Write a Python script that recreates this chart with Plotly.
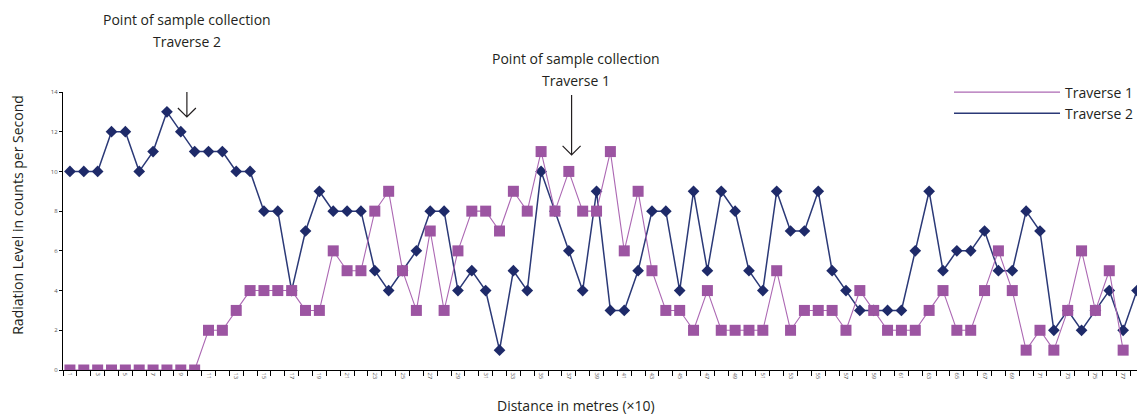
import plotly.graph_objects as go

# ---- data ----
distance = list(range(1, 79))
traverse1 = [0, 0, 0, 0, 0, 0, 0, 0, 0, 0,
             2, 2, 3, 4, 4, 4, 4, 3, 3, 6,
             5, 5, 8, 9, 5, 3, 7, 3, 6, 8,
             8, 7, 9, 8, 11, 8, 10, 8, 8, 11,
             6, 9, 5, 3, 3, 2, 4, 2, 2, 2,
             2, 5, 2, 3, 3, 3, 2, 4, 3, 2,
             2, 2, 3, 4, 2, 2, 4, 6, 4, 1,
             2, 1, 3, 6, 3, 5, 1]
traverse2 = [10, 10, 10, 12, 12, 10, 11, 13, 12, 11,
             11, 11, 10, 10, 8, 8, 4, 7, 9, 8,
             8, 8, 5, 4, 5, 6, 8, 8, 4, 5,
             4, 1, 5, 4, 10, 8, 6, 4, 9, 3,
             3, 5, 8, 8, 4, 9, 5, 9, 8, 5,
             4, 9, 7, 7, 9, 5, 4, 3, 3, 3,
             3, 6, 9, 5, 6, 6, 7, 5, 5, 8,
             7, 2, 3, 2, 3, 4, 2, 4]
y_ticks = [0, 2, 4, 6, 8, 10, 12, 14]
x_tick_vals = [n for n in distance if n % 2 == 1]
x_tick_text = [str(n) for n in x_tick_vals]
series_names = ["Traverse 1", "Traverse 2"]
annot2_lines = ["Point of sample collection", "Traverse 2"]
annot1_lines = ["Point of sample collection", "Traverse 1"]
x_title = "Distance in metres (×10)"
y_title = "Radiation Level in counts per Second"

PURPLE_M = "#9C55A2"
PURPLE_L = "#AC68B3"
NAVY_M = "#1E2A69"
NAVY_L = "#2B3977"
FONT = "Open Sans"
TXT = "#231F20"

fig = go.Figure()

# Traverse 2 (drawn first, underneath)
fig.add_trace(go.Scatter(
    x=distance[:len(traverse2)], y=traverse2, mode="lines+markers",
    name=series_names[1], showlegend=False,
    line=dict(color=NAVY_L, width=1.5),
    marker=dict(symbol="diamond", size=9, color=NAVY_M, line=dict(width=0)),
    hoverinfo="skip"))

# Traverse 1 (on top)
fig.add_trace(go.Scatter(
    x=distance[:len(traverse1)], y=traverse1, mode="lines+markers",
    name=series_names[0], showlegend=False,
    line=dict(color=PURPLE_L, width=1.1),
    marker=dict(symbol="square", size=11, color=PURPLE_M, line=dict(width=0)),
    hoverinfo="skip"))

# legend entries (lines only)
fig.add_trace(go.Scatter(x=[None], y=[None], mode="lines", name=series_names[0],
                         line=dict(color=PURPLE_L, width=1.3)))
fig.add_trace(go.Scatter(x=[None], y=[None], mode="lines", name=series_names[1],
                         line=dict(color=NAVY_L, width=1.5)))

# callout texts
def add_lines(lines, x, ys):
    for txt, yy in zip(lines, ys):
        fig.add_annotation(x=x, y=yy, xref="x", yref="paper", text=txt,
                           showarrow=False, xanchor="center", yanchor="middle",
                           font=dict(family=FONT, size=14, color=TXT))

add_lines(annot2_lines, 9.44, [1.259, 1.180])
add_lines(annot1_lines, 37.49, [1.119, 1.043])

# callout arrows (open V heads), drawn in pixel offsets from the tip
arrow_path = "M0,60 L0,0 M-9,9 L0,0 L9,9"
for ax_, ay_ in [(9.44, 12.74), (37.2, 10.83)]:
    fig.add_shape(type="path", xref="x", yref="y",
                  xsizemode="pixel", ysizemode="pixel",
                  xanchor=ax_, yanchor=ay_, path=arrow_path,
                  line=dict(color=TXT, width=1.2))

# axis titles
fig.add_annotation(x=-0.042, y=0.558, xref="paper", yref="paper", text=y_title,
                   textangle=-90, showarrow=False, xanchor="center", yanchor="middle",
                   font=dict(family=FONT, size=14, color=TXT))
fig.add_annotation(x=0.478, y=-0.128, xref="paper", yref="paper", text=x_title,
                   showarrow=False, xanchor="center", yanchor="middle",
                   font=dict(family=FONT, size=14, color=TXT))

fig.update_layout(
    width=1138, height=416,
    margin=dict(l=63, r=0, t=92, b=46),
    plot_bgcolor="white", paper_bgcolor="white",
    font=dict(family=FONT, color=TXT),
    showlegend=True,
    legend=dict(x=0.8252, xanchor="left", y=1.056, yanchor="top",
                bgcolor="rgba(0,0,0,0)", itemwidth=106,
                font=dict(family=FONT, size=14, color=TXT),
                tracegroupgap=0),
    hovermode=False,
)

fig.update_xaxes(
    range=[0.5, 78.0], automargin=False,
    tickmode="array", tickvals=x_tick_vals, ticktext=x_tick_text,
    tickangle=90, tickfont=dict(size=6, color="#555"),
    ticks="", showgrid=False, zeroline=False,
    showline=True, linecolor="black", linewidth=1.2,
    minor=dict(tickmode="linear", tick0=0.5, dtick=1, ticks="outside",
               ticklen=5, tickcolor="black", tickwidth=1, showgrid=False),
)
fig.update_yaxes(
    range=[0, 14], automargin=False,
    tickmode="array", tickvals=y_ticks,
    tickfont=dict(size=6, color="#555"),
    ticks="outside", ticklen=3, tickcolor="black",
    showgrid=False, zeroline=False,
    showline=True, linecolor="black", linewidth=1.2,
)

fig.write_html("out.html",
               config={"displayModeBar": False, "staticPlot": True},
               post_script="document.body.style.margin='0px';"
                           "document.body.style.overflow='hidden';")
